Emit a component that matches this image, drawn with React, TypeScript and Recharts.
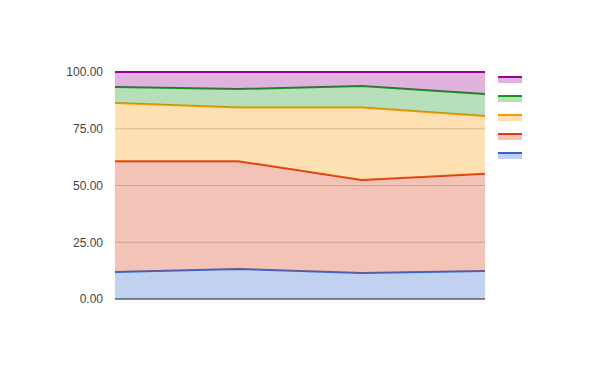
import { Area, AreaChart, CartesianGrid, Legend, ReferenceLine, XAxis, YAxis } from "recharts";

const categories = ["A", "B", "C", "D"];
const blueValues = [11.9, 13.2, 11.5, 12.3];
const redValues = [48.8, 47.5, 40.9, 42.9];
const orangeValues = [25.6, 23.7, 32.0, 25.4];
const greenValues = [7.1, 8.1, 9.4, 9.7];
const purpleValues = [6.6, 7.5, 6.2, 9.7];
const yTicks = [0, 25, 50, 75, 100];

const series = [
  { key: "blue", color: "#3366cc", values: blueValues },
  { key: "red", color: "#dc3912", values: redValues },
  { key: "orange", color: "#ff9900", values: orangeValues },
  { key: "green", color: "#109618", values: greenValues },
  { key: "purple", color: "#990099", values: purpleValues },
];

const data = categories.map((c, i) => {
  const row: Record<string, string | number> = { name: c };
  series.forEach((s) => (row[s.key] = s.values[i]));
  return row;
});

function SwatchLegend() {
  return (
    <div>
      {[...series].reverse().map((s) => (
        <div key={s.key} style={{ width: 24, height: 19 }}>
          <div style={{ height: 2, background: s.color }} />
          <div style={{ height: 5, background: s.color, opacity: 0.3 }} />
        </div>
      ))}
    </div>
  );
}

export default function App() {
  return (
    <div style={{ position: "absolute", left: 0, top: 0, width: 600, height: 371, background: "#fff" }}>
      <AreaChart
        width={600}
        height={371}
        data={data}
        margin={{ top: 72, right: 91, bottom: 72, left: 55 }}
        style={{ fontFamily: "'Liberation Sans', Arial, sans-serif" }}
      >
        <CartesianGrid stroke="#cccccc" vertical={false} />
        <XAxis dataKey="name" tick={false} tickLine={false} height={0} axisLine={false} />
        <YAxis
          width={60}
          domain={[0, 100]}
          ticks={yTicks}
          tickFormatter={(v: number) => v.toFixed(2)}
          axisLine={false}
          tickLine={false}
          tickSize={0}
          tickMargin={12}
          tick={{ fill: "#444444", fontSize: 12 }}
          interval={0}
        />
        <Legend
          layout="vertical"
          align="right"
          verticalAlign="top"
          content={() => <SwatchLegend />}
          wrapperStyle={{ left: 498, top: 76, width: 24 }}
        />
        {series.map((s) => (
          <Area
            key={s.key}
            type="linear"
            dataKey={s.key}
            stackId="1"
            stroke={s.color}
            strokeWidth={2}
            fill={s.color}
            fillOpacity={0.3}
            dot={false}
            activeDot={false}
            isAnimationActive={false}
          />
        ))}
        <ReferenceLine y={0} stroke="#333333" strokeWidth={1} />
      </AreaChart>
    </div>
  );
}
